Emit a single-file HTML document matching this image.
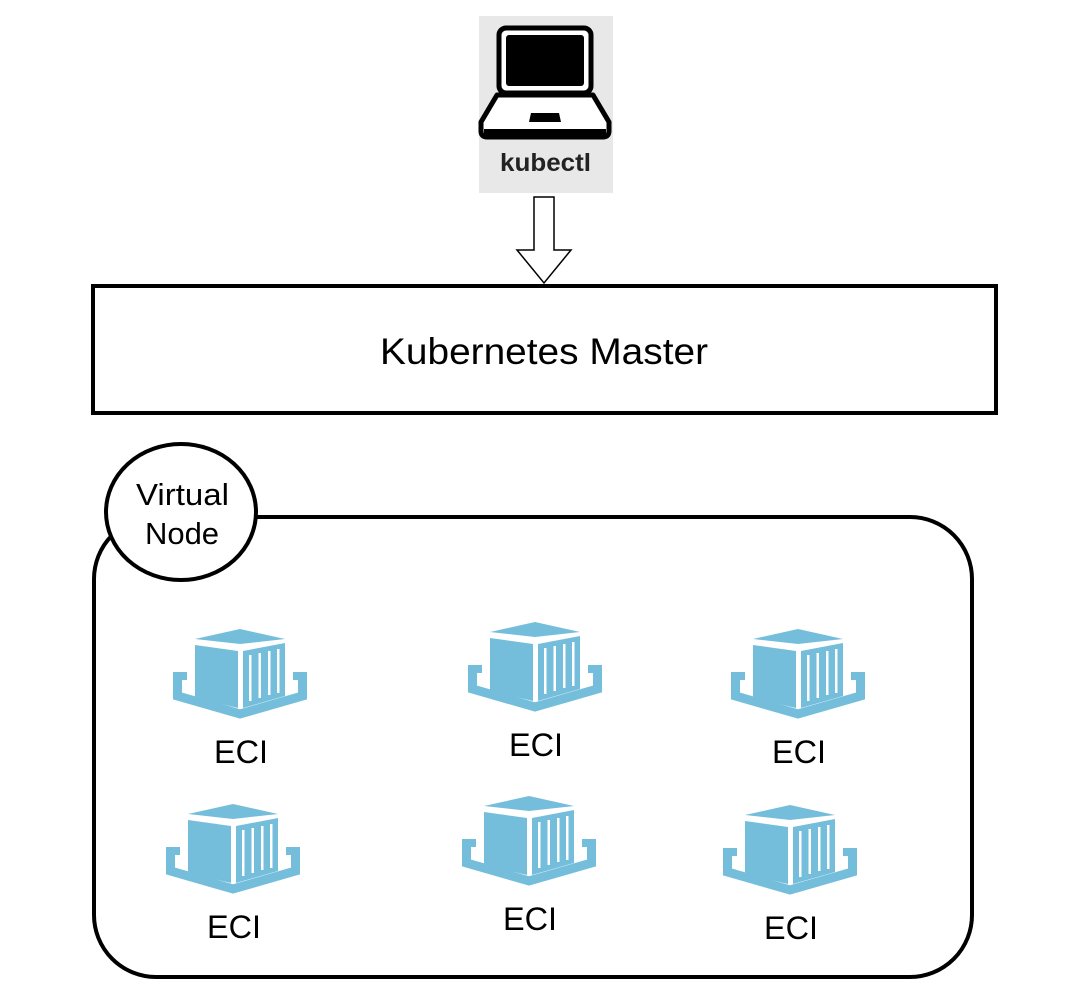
<!DOCTYPE html>
<html><head><meta charset="utf-8"><style>
html,body{margin:0;padding:0;background:#fff;}
svg{display:block;}
text{font-family:"Liberation Sans",sans-serif;}
</style></head><body>
<svg width="1080" height="1002" viewBox="0 0 1080 1002" xmlns="http://www.w3.org/2000/svg">
<defs>
<g id="eci">
  <polygon points="21,8 66,-2 111,8 66,13" fill="#75bedb"/>
  <polygon points="21,14 64,20 64,77 21,67" fill="#75bedb"/>
  <polygon points="69,20 111,12 111,65 69,77" fill="#75bedb"/>
  <rect x="75" y="24" width="2.5" height="46" fill="#fff"/>
  <rect x="84.5" y="22" width="2.5" height="45" fill="#fff"/>
  <rect x="94" y="20" width="2.5" height="44" fill="#fff"/>
  <rect x="103" y="18" width="2.5" height="44" fill="#fff"/>
  <path d="M3.5,44 V65 L66,83 L128.5,65 V44" fill="none" stroke="#75bedb" stroke-width="9"/>
  <rect x="-1" y="41" width="14" height="8" fill="#75bedb"/>
  <rect x="119" y="41" width="14" height="8" fill="#75bedb"/>
</g>
</defs>

<!-- kubectl -->
<rect x="479" y="16" width="134" height="177" fill="#e8e8e8"/>
<rect x="499" y="28" width="92" height="65" rx="7" fill="#fff" stroke="#000" stroke-width="5"/>
<rect x="506" y="35" width="78" height="51" rx="3" fill="#000"/>
<path d="M497,95 L593,95 L609,122 L609,131 Q609,137 603,137 L487,137 Q481,137 481,131 L481,122 Z" fill="#fff" stroke="#000" stroke-width="5" stroke-linejoin="round"/>
<rect x="484" y="129" width="122" height="7" fill="#000"/>
<polygon points="531,113 559,113 561,122 529,122" fill="#000"/>
<text x="500" y="171" font-size="25" font-weight="bold" textLength="91" lengthAdjust="spacingAndGlyphs" fill="#222">kubectl</text>

<!-- arrow -->
<polygon points="534,197 554,197 554,250 571,250 544,283 517,250 534,250" fill="#fff" stroke="#000" stroke-width="1.5"/>

<!-- master -->
<rect x="93" y="286" width="903" height="127" fill="#fff" stroke="#000" stroke-width="4"/>
<text x="380" y="364" font-size="37" textLength="328" lengthAdjust="spacingAndGlyphs" fill="#000">Kubernetes Master</text>

<!-- virtual node -->
<rect x="94" y="517" width="878" height="460" rx="62" fill="#fff" stroke="#000" stroke-width="4"/>
<ellipse cx="181" cy="512" rx="75" ry="68" fill="#fff" stroke="#000" stroke-width="4"/>
<text x="136" y="505" font-size="31" textLength="93" lengthAdjust="spacingAndGlyphs" fill="#000">Virtual</text>
<text x="182" y="544" font-size="31" text-anchor="middle" fill="#000">Node</text>

<use href="#eci" x="174" y="631"/>
<use href="#eci" x="469" y="624"/>
<use href="#eci" x="732" y="631"/>
<use href="#eci" x="167" y="806"/>
<use href="#eci" x="463" y="798"/>
<use href="#eci" x="724" y="807"/>

<g font-size="32" fill="#000" lengthAdjust="spacingAndGlyphs">
<text x="214" y="763" textLength="54" lengthAdjust="spacingAndGlyphs">ECI</text>
<text x="509" y="756" textLength="54" lengthAdjust="spacingAndGlyphs">ECI</text>
<text x="772" y="763" textLength="54" lengthAdjust="spacingAndGlyphs">ECI</text>
<text x="207" y="938" textLength="54" lengthAdjust="spacingAndGlyphs">ECI</text>
<text x="503" y="930" textLength="54" lengthAdjust="spacingAndGlyphs">ECI</text>
<text x="764" y="939" textLength="54" lengthAdjust="spacingAndGlyphs">ECI</text>
</g>
</svg>
</body></html>
